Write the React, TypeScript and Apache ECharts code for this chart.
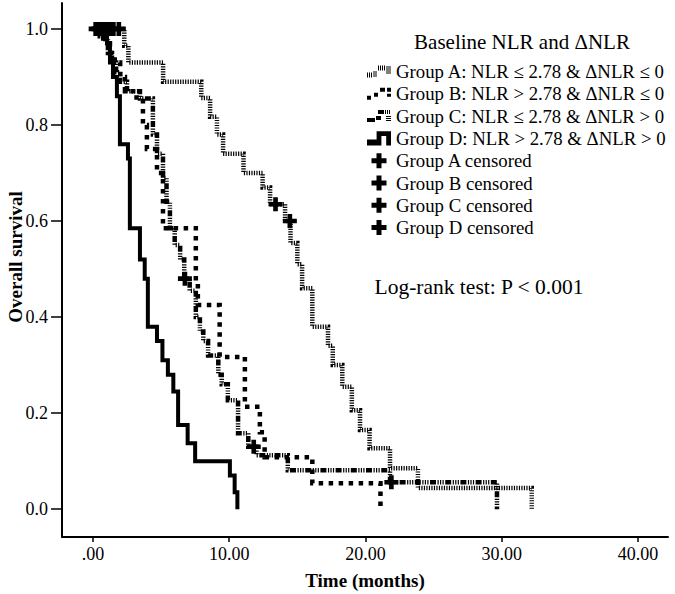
import React, { useEffect, useRef } from "react";
import * as echarts from "echarts";

const FONT = '"Liberation Serif", "Times New Roman", serif';

// Tick values
const timeTicks = [0, 10, 20, 30, 40];
const survTicks = [0, 0.2, 0.4, 0.6, 0.8, 1.0];

// Kaplan-Meier steps: [time (months), survival after the drop]
const groupA: [number, number][] = [
  [0, 1], [2.3, 0.965], [2.6, 0.93], [5.15, 0.89], [7.95, 0.856], [8.6, 0.817],
  [9.1, 0.78], [9.55, 0.74], [11.05, 0.7], [12.45, 0.67], [13.0, 0.635],
  [14.1, 0.6], [14.5, 0.554], [15.0, 0.51], [15.35, 0.46], [16.1, 0.38],
  [17.25, 0.34], [17.6, 0.3], [18.3, 0.255], [19.0, 0.206], [19.6, 0.165],
  [20.3, 0.127], [21.8, 0.085], [23.85, 0.044], [32.2, 0],
];
const groupB: [number, number][] = [
  [0, 1], [0.5, 0.985], [0.9, 0.97], [1.25, 0.95], [1.6, 0.93], [2.0, 0.9],
  [2.35, 0.87], [3.2, 0.85], [3.67, 0.8], [3.96, 0.75], [4.7, 0.7],
  [5.14, 0.585], [7.55, 0.47], [7.7, 0.425], [9.3, 0.317], [11.15, 0.213],
  [12.25, 0.16], [12.6, 0.108], [16.1, 0.054], [21.1, 0],
];
const groupC: [number, number][] = [
  [0, 1], [0.75, 0.98], [1.1, 0.95], [1.4, 0.93], [1.7, 0.91], [2.0, 0.89],
  [2.5, 0.87], [3.45, 0.855], [4.4, 0.78], [4.7, 0.74], [5.14, 0.69],
  [5.4, 0.64], [5.65, 0.585], [6.0, 0.55], [6.4, 0.52], [6.7, 0.48],
  [7.1, 0.455], [7.55, 0.4], [7.85, 0.37], [8.1, 0.35], [8.45, 0.32],
  [9.2, 0.28], [9.45, 0.26], [9.9, 0.227], [10.65, 0.158], [11.4, 0.13],
  [12.0, 0.112], [14.3, 0.081], [21.8, 0.056], [29.65, 0],
];
const groupD: [number, number][] = [
  [0, 1], [1.03, 0.97], [1.25, 0.93], [1.47, 0.9], [1.76, 0.86], [1.98, 0.76],
  [2.57, 0.73], [2.71, 0.585], [3.45, 0.52], [3.8, 0.48], [4.03, 0.38],
  [4.7, 0.35], [5.1, 0.31], [5.5, 0.28], [5.9, 0.245], [6.25, 0.175],
  [6.95, 0.137], [7.5, 0.1], [10.05, 0.07], [10.4, 0.035], [10.6, 0],
];

// Censored observations
const censA: [number, number][] = [[0.2, 1], [1.2, 1], [1.9, 1], [13.4, 0.635], [14.45, 0.6]];
const censB: [number, number][] = [[0.6, 1], [1.5, 1]];
const censC: [number, number][] = [[0.9, 1], [6.75, 0.48], [11.8, 0.13], [21.9, 0.056]];
const censD: [number, number][] = [[0.4, 1]];

const lineNames = [
  "Group A: NLR \u2264 2.78 & \u0394NLR \u2264 0",
  "Group B: NLR > 2.78 & \u0394NLR \u2264 0",
  "Group C: NLR \u2264 2.78 & \u0394NLR > 0",
  "Group D: NLR > 2.78 & \u0394NLR > 0",
];
const censNames = ["Group A censored", "Group B censored", "Group C censored", "Group D censored"];
const legendTitle = "Baseline NLR and \u0394NLR";
const testText = "Log-rank test: P < 0.001";
const xTitle = "Time (months)";
const yTitle = "Overall survival";

const PLUS = "path://M4,0H8V4H12V8H8V12H4V8H0V4H4Z";
const ICON_A =
  "path://M0,7h1v5h-1zM2,7h1v5h-1zM4,7h1v5h-1zM6,6h4v1h-4zM6,8h4v1h-4zM6,10h4v1h-4zM11,0h1v5h-1zM13,0h1v5h-1zM15,0h1v5h-1zM17,0h1v5h-1zM19,1h5v1h-5zM19,3h5v1h-5zM19,5h5v1h-5zM19,7h5v1h-5z";
const ICON_B = "path://M0,8h4v4h-4zM7,5h4v4h-4zM13,0h5v4h-5zM20,0h4v4h-4zM20,6h4v3h-4z";
const ICON_C =
  "path://M0,8h8v4h-8zM9,6h5v4h-5zM11,0h6v4h-6zM18,0h1v4h-1zM20,0h1v4h-1zM22,0h1v4h-1zM19,6h5v1h-5zM19,8h5v1h-5zM19,10h5v1h-5z";
const ICON_D = "path://M0,7H8V0H20V12H16V4H12V12H0Z";

export default function App() {
  const ref = useRef<HTMLDivElement>(null);
  useEffect(() => {
    document.body.style.margin = "0";
    const chart = echarts.init(ref.current as HTMLDivElement, null, { renderer: "svg" });
    const lineStyles = [
      { width: 4.5, type: [1.2, 1.3] },
      { width: 4.5, type: [4.5, 5.5] },
      { width: 4.5, type: [6, 1.5, 1.2, 1.3, 1.2, 1.3, 1.2, 1.5] },
      { width: 4, type: "solid" },
    ];
    const lineData = [groupA, groupB, groupC, groupD];
    const censData = [censA, censB, censC, censD];
    const series: any[] = [];
    lineData.forEach((d, i) => {
      series.push({
        name: lineNames[i],
        type: "line",
        step: "end",
        data: d,
        symbol: "none",
        showSymbol: false,
        color: "#000",
        lineStyle: { color: "#000", width: lineStyles[i].width, type: lineStyles[i].type, cap: "butt", join: "miter" },
        z: 2,
      });
    });
    censData.forEach((d, i) => {
      series.push({
        name: censNames[i],
        type: "scatter",
        data: d,
        symbol: PLUS,
        symbolSize: 14,
        color: "#000",
        itemStyle: { color: "#000", opacity: 1 },
        z: 3,
      });
    });
    const icons = [ICON_A, ICON_B, ICON_C, ICON_D];
    chart.setOption({
      animation: false,
      backgroundColor: "#fff",
      grid: { left: 62, right: 7, top: 3, bottom: 57 },
      xAxis: {
        type: "value",
        min: -2.27,
        max: 42.2,
        axisLine: { onZero: false, lineStyle: { color: "#000", width: 2 } },
        axisTick: { customValues: timeTicks, length: 5, lineStyle: { color: "#000", width: 1.5 } },
        axisLabel: {
          customValues: timeTicks,
          margin: 8,
          fontFamily: FONT,
          fontSize: 18,
          color: "#000",
          formatter: (v: number) => (v === 0 ? ".00" : v.toFixed(2)),
        },
        splitLine: { show: false },
      },
      yAxis: {
        type: "value",
        min: -0.058,
        max: 1.054,
        axisLine: { onZero: false, lineStyle: { color: "#000", width: 2 } },
        axisTick: { customValues: survTicks, length: 11, lineStyle: { color: "#000", width: 1.5 } },
        axisLabel: {
          customValues: survTicks,
          margin: 14,
          fontFamily: FONT,
          fontSize: 18,
          color: "#000",
          formatter: (v: number) => v.toFixed(1),
        },
        splitLine: { show: false },
      },
      legend: {
        orient: "vertical",
        left: 367,
        top: 62,
        itemWidth: 24,
        itemHeight: 15,
        itemGap: 3.3,
        padding: 0,
        selectedMode: false,
        itemStyle: { borderWidth: 0, color: "#000", opacity: 1 },
        textStyle: { fontFamily: FONT, fontSize: 18.8, color: "#000" },
        data: [
          ...lineNames.map((n, i) => ({ name: n, icon: icons[i] })),
          ...censNames.map((n) => ({ name: n, icon: PLUS, itemStyle: { color: "#000", opacity: 1 } })),
        ],
      },
      graphic: [
        {
          type: "text",
          x: 522,
          y: 42,
          style: { text: legendTitle, font: `21px ${FONT}`, fill: "#000", textAlign: "center", textVerticalAlign: "middle", align: "center", verticalAlign: "middle" },
        },
        {
          type: "text",
          x: 479,
          y: 287,
          style: { text: testText, font: `21.5px ${FONT}`, fill: "#000", textAlign: "center", textVerticalAlign: "middle", align: "center", verticalAlign: "middle" },
        },
        {
          type: "text",
          x: 365,
          y: 580,
          style: { text: xTitle, font: `bold 19px ${FONT}`, fill: "#000", textAlign: "center", textVerticalAlign: "middle", align: "center", verticalAlign: "middle" },
        },
        {
          type: "text",
          x: 15,
          y: 257,
          rotation: Math.PI / 2,
          style: { text: yTitle, font: `bold 19px ${FONT}`, fill: "#000", textAlign: "center", textVerticalAlign: "middle", align: "center", verticalAlign: "middle" },
        },
      ],
      series,
    });
    return () => chart.dispose();
  }, []);
  return (
    <div
      ref={ref}
      style={{ position: "absolute", left: 0, top: 0, width: 675, height: 594, background: "#fff" }}
    />
  );
}
